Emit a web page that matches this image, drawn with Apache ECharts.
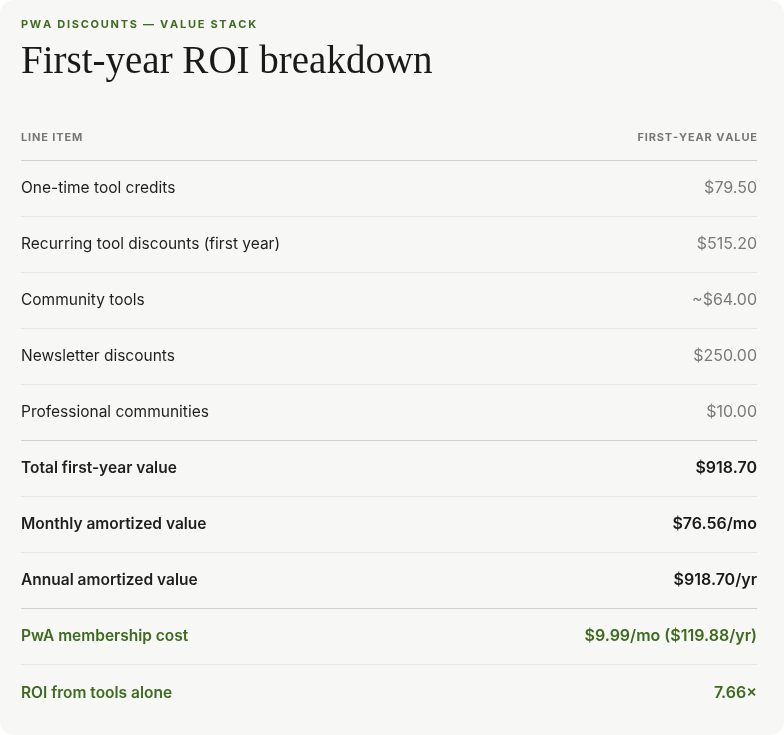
<!DOCTYPE html>
<html lang="en">
<head>
<meta charset="UTF-8">
<title>First-year ROI breakdown</title>
<script src="https://cdn.jsdelivr.net/npm/echarts@6/dist/echarts.min.js"></script>
<style>
  html, body { margin: 0; padding: 0; background: #ffffff; }
  #chart { width: 784px; height: 735px; }
</style>
</head>
<body>
<div id="chart"></div>
<script>
    // table content
    var kicker = "PWA DISCOUNTS \u2014 VALUE STACK";
    var title = "First-year ROI breakdown";
    var headers = ["LINE ITEM", "FIRST-YEAR VALUE"];
    var items = [
        "One-time tool credits",
        "Recurring tool discounts (first year)",
        "Community tools",
        "Newsletter discounts",
        "Professional communities",
        "Total first-year value",
        "Monthly amortized value",
        "Annual amortized value",
        "PwA membership cost",
        "ROI from tools alone"
    ];
    var values = [
        "$79.50", "$515.20", "~$64.00", "$250.00", "$10.00",
        "$918.70", "$76.56/mo", "$918.70/yr",
        "$9.99/mo ($119.88/yr)", "7.66\u00d7"
    ];
    // row kind: 0 = line item, 1 = total, 2 = highlight
    var kinds = [0, 0, 0, 0, 0, 1, 1, 1, 2, 2];

    var left = 21, right = 757, headY = 138, firstRow = 188, rowH = 56;
    var green = '#3d6b1f';
    var font = 'Inter, "Noto Sans", sans-serif';

    function spaced(s, sp) { return s.split('').join(sp); }

    var els = [
        { type: 'rect', shape: { x: 0, y: 0, width: 784, height: 735, r: 14 }, style: { fill: '#f7f7f5' } },
        { type: 'text', x: left, y: 25, style: { text: spaced(kicker, '\u2009'), fill: green, font: 'bold 11px ' + font, textVerticalAlign: 'middle' } },
        { type: 'text', x: left, y: 63, style: { text: title, fill: '#1a1a1a', font: '500 39px "Liberation Serif", "DejaVu Serif", serif', textVerticalAlign: 'middle' } },
        { type: 'text', x: left, y: headY, style: { text: spaced(headers[0], '\u200a'), fill: '#777', font: 'bold 11px ' + font, textVerticalAlign: 'middle' } },
        { type: 'text', x: right, y: headY, style: { text: spaced(headers[1], '\u200a'), fill: '#777', font: 'bold 11px ' + font, textAlign: 'right', textVerticalAlign: 'middle' } },
        { type: 'line', shape: { x1: left, y1: 160.5, x2: right, y2: 160.5 }, style: { stroke: '#cfcfcb', lineWidth: 1 } }
    ];

    items.forEach(function (name, i) {
        var y = firstRow + i * rowH + (i === 9 ? 1 : 0);
        var k = kinds[i];
        var labelColor = k === 2 ? green : '#1f1f1f';
        var valueColor = k === 0 ? '#7a7a7a' : (k === 2 ? green : '#1a1a1a');
        var weight = k === 0 ? 'normal' : '600';
        els.push({ type: 'text', x: left, y: y, style: { text: name, fill: labelColor, font: weight + ' 15.5px ' + font, textVerticalAlign: 'middle' } });
        els.push({ type: 'text', x: right, y: y, style: { text: values[i], fill: valueColor, font: weight + ' 16px ' + font, textAlign: 'right', textVerticalAlign: 'middle' } });
        if (i < items.length - 1) {
            var ly = firstRow + i * rowH + 28.5;
            var strong = kinds[i + 1] !== kinds[i];
            els.push({ type: 'line', shape: { x1: left, y1: ly, x2: right, y2: ly }, style: { stroke: strong ? '#cfcfcb' : '#e6e6e2', lineWidth: 1 } });
        }
    });

    echarts.init(document.getElementById('chart')).setOption({
        animation: false,
        graphic: { elements: els }
    });
</script>
</body>
</html>
